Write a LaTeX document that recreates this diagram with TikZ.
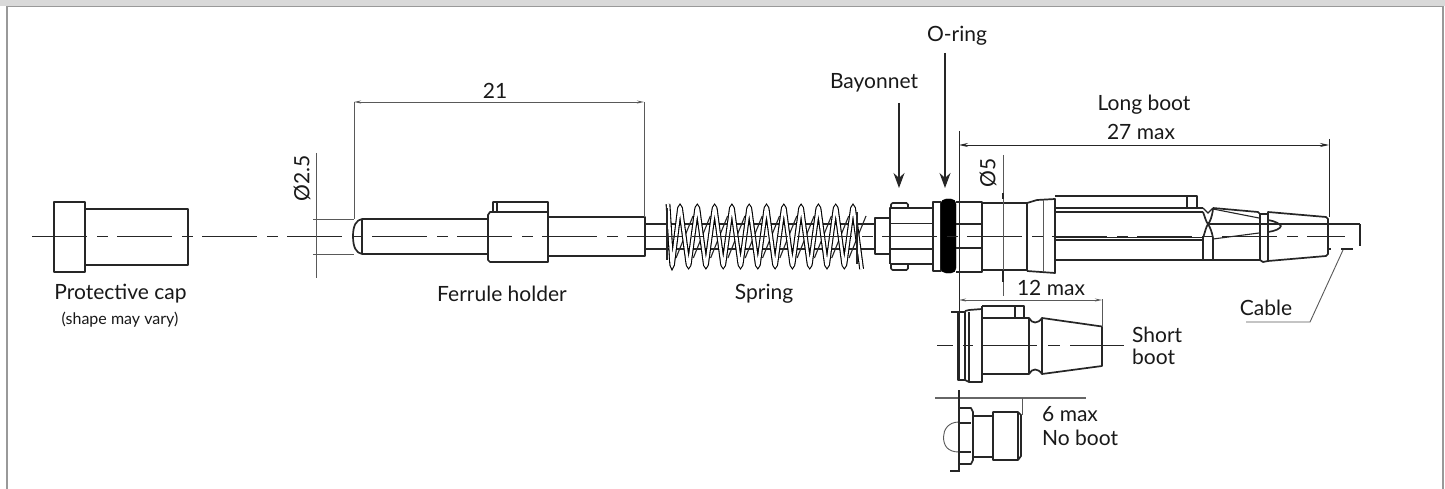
\documentclass[tikz,border=0pt]{standalone}
\usepackage{fontspec}
\setmainfont{Lato}
\usetikzlibrary{arrows.meta}

\begin{document}
\begin{tikzpicture}[x=1pt, y=-1pt]
	\tikzstyle{label}=[
	inner sep=0pt,
	text=black!90,
	font=\fontsize{21}{22}\selectfont,
	align=left]
	\tikzstyle{small}=[
	label,
	font=\fontsize{16}{18}\selectfont]
	\tikzstyle{part}=[
	draw=black!85,
	line width=1.7pt,
	line join=round]
	\tikzstyle{inner}=[
	draw=black!85,
	line width=1.1pt]
	\tikzstyle{thinline}=[
	draw=black!65,
	line width=0.9pt]
	\tikzstyle{dim}=[
	thinline,
	{Stealth[length=7pt,width=3pt,open]}-{Stealth[length=7pt,width=3pt,open]}]
	\tikzstyle{center}=[
	draw=black!85,
	line width=1pt]
	\tikzstyle{pointer}=[
	draw=black!85,
	line width=1.1pt,
	-{Stealth[length=15pt,width=11pt]}]
	\useasboundingbox (0,0) rectangle (1445,489);
	\fill[white] (0,0) rectangle (1445,489);
	%
	\fill[black!15] (0,0) rectangle (1445,6);
	\draw[black!40, line width=1.4pt] (7,489) -- (7,6.5) -- (1443,6.5) -- (1443,489);
	%
	\node[label] (CAP) at (120.5,294) {Protective cap};
	\node[small] (CAP_N) at (120,320) {(shape may vary)};
	\node[label] (FH) at (502,294) {Ferrule holder};
	\node[label] (SP) at (764,294) {Spring};
	\node[label] (BAY) at (874,83) {Bayonnet};
	\node[label] (OR) at (957,36) {O-ring};
	\node[label] (LB) at (1144,105) {Long boot};
	\node[label] (LB_D) at (1141,132) {27 max};
	\node[label] (SB_D) at (1051,288) {12 max};
	\node[label, anchor=west] (SB) at (1132,346) {Short\\boot};
	\node[label, anchor=west] (NB) at (1042,426) {6 max\\[2pt]No boot};
	\node[label] (CB) at (1266,308) {Cable};
	\node[label] (D21) at (495,91) {21};
	\node[label, rotate=90] (D25) at (302,178) {Ø2.5};
	\node[label, rotate=90] (D5) at (988,173) {Ø5};
	%
	% protective cap
	\draw[part] (54,202) rectangle (85,272);
	\draw[part] (85,209) rectangle (188,265);
	%
	% ferrule holder
	\draw[part] (362,219) .. controls (356,220) and (353,226) .. (353,236) .. controls (353,247) and (356,253) .. (362,254);
	\draw[part] (362,219) -- (488,219) (362,254) -- (488,254) (362,219) -- (362,254);
	\draw[part] (493,212) -- (490,212) -- (488,215) -- (488,260) -- (490,262) -- (548,262) -- (548,202) -- (493,202) -- (493,212) -- (548,212);
	\draw[inner] (497,202) -- (497,212);
	\draw[part] (548,217) -- (645,217) -- (645,256) -- (548,256);
	%
	% neck and spring
	\draw[inner] (645,224) -- (875,224) (645,249) -- (875,249);
	\draw[inner] \foreach \i in {0,...,10} { ({676+17.3*\i},258) -- ({693+17.3*\i},216) };
	\draw[line width=1.1pt, draw=black, double=white, double distance=2.6pt, rounded corners=6pt] (668,204) -- (672,269)
		\foreach \i in {0,...,10} { -- ({680+17.3*\i},204) -- ({688.6+17.3*\i},269) };
	\draw[part, line width=2.4pt] (667,208) -- (667,260) (857,212) -- (857,264);
	%
	% bayonnet
	\draw[part] (875,218) rectangle (890,254);
	\draw[part] (890,254) -- (890,208) -- (933,208) (890,264) -- (933,264) (890,254) -- (890,264);
	\draw[part, rounded corners=1.5pt] (891,209) -- (891,203) -- (908,203) -- (908,208);
	\draw[part, rounded corners=1.5pt] (891,264) -- (891,270) -- (908,270) -- (908,264);
	\draw[inner] (890,223.5) -- (933,223.5) (890,249) -- (933,249);
	\draw[part] (933,202) rectangle (941,271);
	\draw[draw=black, fill=black, rounded corners=5pt] (941,199) rectangle (956,273);
	%
	% long boot
	\draw[part] (956,202) -- (982,202) -- (982,272) -- (956,272);
	\draw[inner] (956,224) -- (982,224) (956,248) -- (982,248);
	\draw[part] (982,203) -- (1027,203) -- (1027,270) -- (982,270);
	\draw[part] (1027,203) -- (1037,200) -- (1055,199) -- (1055,273) -- (1027,271);
	\draw[thinline] (1043,200) -- (1043,272);
	\draw[part] (1055,196) -- (1197,196) -- (1197,208);
	\draw[inner] (1187,197) -- (1187,208);
	\draw[part] (1055,208) -- (1203,208) (1055,212) -- (1203,212);
	\draw[part] (1055,260) -- (1260,260);
	\draw[inner] (1055,237.5) -- (1203,237.5) (1055,240) -- (1203,240);
	\draw[inner] (1203,208) -- (1208,213) -- (1213,208);
	\draw[part] (1203,212) .. controls (1205,217) and (1206,222) .. (1208,224) .. controls (1210,222) and (1212,217) .. (1213,209);
	\draw[part] (1203,238) .. controls (1205,232) and (1206,227) .. (1208,224) .. controls (1210,227) and (1212,232) .. (1213,238);
	\draw[inner] (1203,238) -- (1203,260) (1213,238) -- (1213,260);
	\draw[part] (1213,208) -- (1258,212) -- (1260,214) -- (1260,260) -- (1263,262) -- (1268,261);
	\draw[inner] (1213,209) -- (1259,218) (1213,239) -- (1259,233);
	\draw[inner] (1208,224) -- (1328,224);
	\draw[inner] (1260,214) -- (1268,214);
	\draw[part] (1268,212) -- (1326,217) -- (1328,219) -- (1328,254) -- (1326,256) -- (1268,261) -- cycle;
	\draw[part] (1268,220) .. controls (1275,221) and (1280,224) .. (1281,226) .. controls (1280,229) and (1275,231) .. (1268,232);
	\draw[inner] (1328,224) -- (1360,224);
	\draw[part] (1360,224) -- (1360,246);
	\draw[part] (1328,249) -- (1331,249) (1341,249) -- (1353,249);
	%
	% short boot
	\draw[inner] (951,312) -- (958,312);
	\draw[part] (958,312) -- (965,312) -- (965,380) -- (958,380) -- (958,312);
	\draw[part] (969,312) -- (969,381) (965,311) -- (969,310) -- (982,309) -- (982,382) -- (969,382) -- (965,380);
	\draw[part] (982,306) -- (1024,306) -- (1024,318);
	\draw[part] (982,306) -- (982,318) -- (1029,318) -- (1029,374) -- (982,374);
	\draw[part] (1015,306) -- (1015,318);
	\draw[part] (1029,318) .. controls (1032,324) and (1038,324) .. (1042,318);
	\draw[part] (1029,374) .. controls (1032,368) and (1038,368) .. (1042,374);
	\draw[part] (1042,318) -- (1102,326.5) -- (1102,366) -- (1042,374) -- cycle;
	%
	% no boot
	\draw[thinline] (959,422) .. controls (948,422) and (943.5,430) .. (943.5,437) .. controls (943.5,446) and (948,452) .. (959,452);
	\draw[part] (959,408) -- (971,408) -- (973,412) -- (973,460) -- (971,464) -- (959,464);
	\draw[part] (959,423) -- (971,423) (959,452) -- (971,452);
	\draw[part] (973,416) -- (993,416) (973,457) -- (993,457);
	\draw[part] (993,412) -- (1018,412) -- (1021,415) -- (1021,456) -- (1018,460) -- (993,460) -- cycle;
	\draw[inner] (1018,412) -- (1018,460);
	%
	% center lines
	\draw[center, dash pattern=on 55pt off 10pt on 11pt off 9pt] (32,236.5) -- (1345,236.5);
	\draw[center, dash pattern=on 16pt off 10pt on 10pt off 10pt on 54pt off 11pt on 12pt off 10pt on 54pt] (937,345) -- (1124,345);
	%
	% dimensions
	\draw[thinline] (354,102) -- (354,219) (644,102) -- (644,217);
	\coordinate (D21_L) at (354,102);
	\coordinate (D21_R) at (644,102);
	\draw[dim] (D21_L) -- (D21_R);
	\draw[thinline] (316,153) -- (316,278);
	\draw[thinline] (313,219) -- (354,219) (313,254) -- (354,254);
	\draw[thinline, draw=black!85] (959,131) -- (959,380);
	\coordinate (LB_L) at (959,145);
	\coordinate (LB_R) at (1329,145);
	\draw[thinline, draw=black!85, {Stealth[length=9pt,width=4pt]}-{Stealth[length=9pt,width=4pt]}] (LB_L) -- (LB_R);
	\draw[thinline, draw=black!85] (1329,139) -- (1329,217);
	\draw[thinline] (1003,155) -- (1003,296);
	\draw[inner] (1003,193) -- (1003,199) (1003,270) -- (1003,282);
	\coordinate (SB_L) at (959,300);
	\coordinate (SB_R) at (1102,300);
	\draw[dim] (SB_L) -- (SB_R);
	\draw[thinline] (1102,299) -- (1102,327);
	\draw[thinline, draw=black!60, line width=1.2pt] (935,398) -- (1086,398);
	\draw[inner] (959,390) -- (959,471) -- (950,471);
	\draw[thinline] (1022,398) -- (1022,415);
	%
	% pointers
	\coordinate (BAY_S) at (899,103);
	\coordinate (BAY_T) at (899,188);
	\coordinate (OR_S) at (945,53);
	\coordinate (OR_T) at (945,188);
	\coordinate (CB_L) at (1246,322);
	\coordinate (CB_K) at (1310,322);
	\coordinate (CB_T) at (1343,250);
	\draw[pointer] (BAY_S) -- (BAY_T);
	\draw[pointer] (OR_S) -- (OR_T);
	\draw[thinline] (CB_L) -- (CB_K) -- (CB_T);
\end{tikzpicture}
\end{document}
